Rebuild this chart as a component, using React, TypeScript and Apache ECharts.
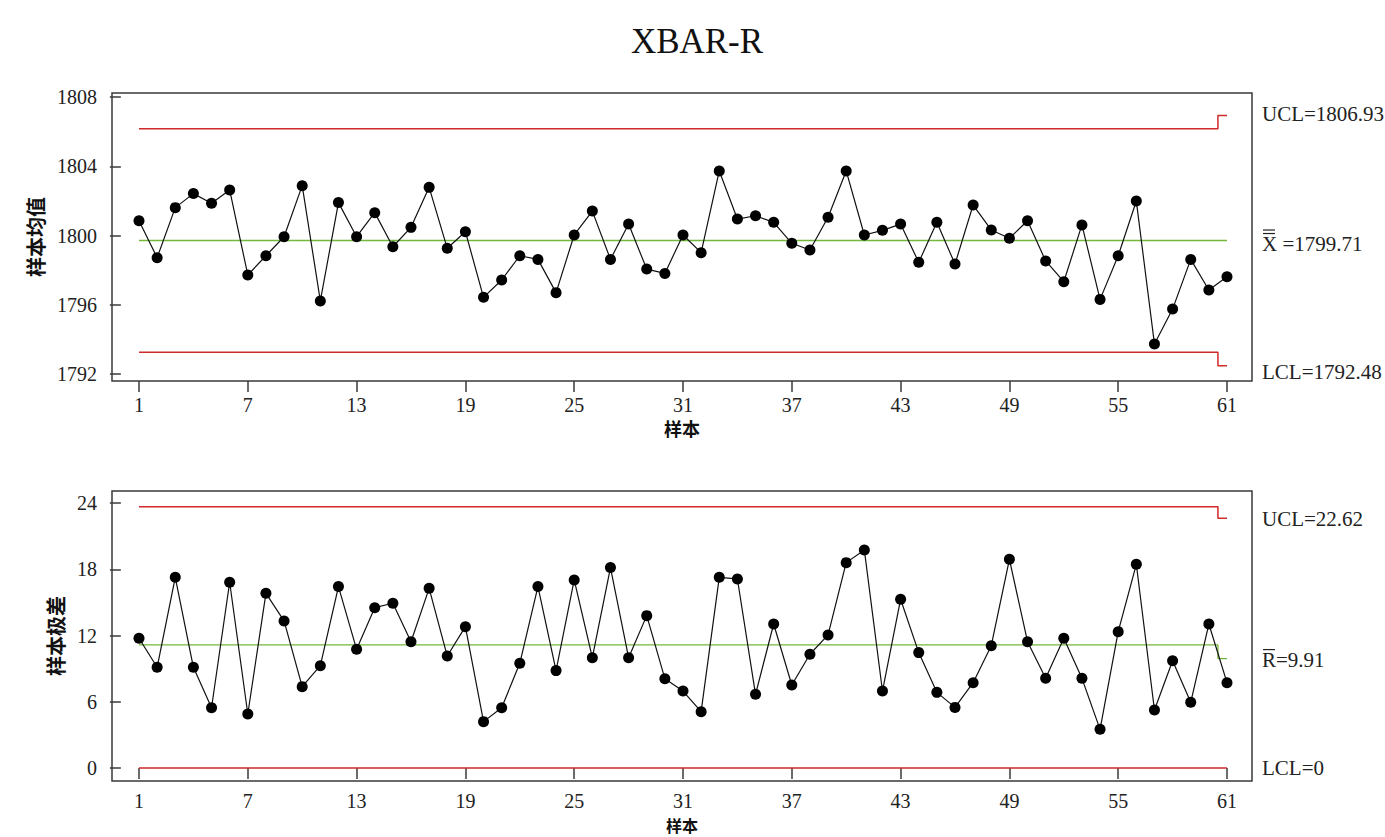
import React, { useEffect, useRef } from "react";
import * as echarts from "echarts";

// ---------- data ----------
const sampleNumbers = [
  1, 2, 3, 4, 5, 6, 7, 8, 9, 10, 11, 12, 13, 14, 15, 16, 17, 18, 19, 20,
  21, 22, 23, 24, 25, 26, 27, 28, 29, 30, 31, 32, 33, 34, 35, 36, 37, 38, 39, 40,
  41, 42, 43, 44, 45, 46, 47, 48, 49, 50, 51, 52, 53, 54, 55, 56, 57, 58, 59, 60, 61,
];

const xbarValues = [
  1800.85, 1798.72, 1801.61, 1802.42, 1801.86, 1802.63, 1797.72, 1798.83, 1799.93, 1802.88,
  1796.22, 1801.9, 1799.93, 1801.32, 1799.35, 1800.47, 1802.78, 1799.26, 1800.22, 1796.43,
  1797.43, 1798.83, 1798.62, 1796.7, 1800.03, 1801.41, 1798.62, 1800.66, 1798.06, 1797.81,
  1800.03, 1799.01, 1803.73, 1800.95, 1801.14, 1800.76, 1799.55, 1799.16, 1801.05, 1803.73,
  1800.03, 1800.3, 1800.66, 1798.45, 1800.76, 1798.35, 1801.76, 1800.32, 1799.84, 1800.85,
  1798.53, 1797.33, 1800.61, 1796.31, 1798.83, 1801.99, 1793.73, 1795.75, 1798.62, 1796.85,
  1797.62,
];

const rangeValues = [
  11.75, 9.12, 17.27, 9.12, 5.46, 16.82, 4.89, 15.82, 13.32, 7.37,
  9.27, 16.43, 10.75, 14.52, 14.92, 11.44, 16.27, 10.14, 12.8, 4.2,
  5.46, 9.48, 16.43, 8.82, 17.03, 9.99, 18.15, 9.99, 13.8, 8.09,
  6.97, 5.1, 17.27, 17.12, 6.67, 13.04, 7.52, 10.3, 12.05, 18.6,
  19.75, 6.97, 15.28, 10.45, 6.85, 5.49, 7.73, 11.08, 18.9, 11.44,
  8.12, 11.75, 8.12, 3.5, 12.35, 18.45, 5.25, 9.72, 5.95, 13.04,
  7.73,
];

// control limits: segments of [number of samples, value]
const limitSegmentCounts = [60, 1];
const xbarUCL = [1806.17, 1806.93];
const xbarCL = [1799.71, 1799.71];
const xbarLCL = [1793.25, 1792.48];
const rangeUCL = [23.65, 22.62];
const rangeCL = [11.15, 9.91];
const rangeLCL = [0, 0];

const xTickValues = [1, 7, 13, 19, 25, 31, 37, 43, 49, 55, 61];
const xbarTickValues = [1792, 1796, 1800, 1804, 1808];
const rangeTickValues = [0, 6, 12, 18, 24];

const xbarLabels = ["UCL=1806.93", "X =1799.71", "LCL=1792.48"];
const rangeLabels = ["UCL=22.62", "R=9.91", "LCL=0"];

// ---------- helpers ----------
const SERIF = '"Liberation Serif", "DejaVu Serif", serif';
const CJK = '"Noto Sans CJK SC", sans-serif';
const RED = "#d02a2a";
const GREEN = "#72b83c";
const FRAME = "#3a3a3a";

function expand(values: number[]) {
  const out: number[] = [];
  values.forEach((v, i) => {
    for (let k = 0; k < limitSegmentCounts[i]; k++) out.push(v);
  });
  return out.map((v, i) => [sampleNumbers[i], v]);
}

function limitSeries(values: number[], idx: number, color: string, width: number) {
  return {
    type: "line",
    xAxisIndex: idx,
    yAxisIndex: idx,
    data: expand(values),
    step: "middle",
    symbol: "none",
    lineStyle: { color, width },
    z: 1,
    silent: true,
  };
}

function xAxis(gridIndex: number, nameGap: number, labelMargin: number, nameSize: number) {
  return {
    type: "value",
    gridIndex,
    min: -0.489,
    max: 62.379,
    axisLine: { show: false },
    splitLine: { show: false },
    axisTick: {
      show: true,
      inside: false,
      length: 11,
      customValues: xTickValues,
      lineStyle: { color: FRAME, width: 1.5 },
    },
    axisLabel: {
      show: true,
      customValues: xTickValues,
      margin: labelMargin,
      fontFamily: SERIF,
      fontSize: 20,
      color: "#222",
      formatter: (v: number) => String(v),
    },
    name: "样本",
    nameLocation: "middle",
    nameGap,
    nameTextStyle: { fontFamily: CJK, fontWeight: "bold", fontSize: nameSize, color: "#111" },
  };
}

function yAxis(gridIndex: number, min: number, max: number, ticks: number[], name: string, nameGap: number) {
  return {
    type: "value",
    gridIndex,
    min,
    max,
    axisLine: { show: false },
    splitLine: { show: false },
    axisTick: {
      show: true,
      inside: false,
      length: 11,
      customValues: ticks,
      lineStyle: { color: FRAME, width: 1.5 },
    },
    axisLabel: {
      show: true,
      customValues: ticks,
      margin: 15,
      fontFamily: SERIF,
      fontSize: 20,
      color: "#222",
      formatter: (v: number) => String(v),
    },
    name,
    nameLocation: "middle",
    nameGap,
    nameRotate: 90,
    nameTextStyle: { fontFamily: CJK, fontWeight: "bold", fontSize: 20, color: "#111" },
  };
}

const option = {
  animation: false,
  backgroundColor: "#ffffff",
  grid: [
    { left: 112, top: 93, width: 1140, height: 288, show: true, borderColor: FRAME, borderWidth: 1.5, backgroundColor: "transparent" },
    { left: 112, top: 491, width: 1140, height: 290, show: true, borderColor: FRAME, borderWidth: 1.5, backgroundColor: "transparent" },
  ],
  xAxis: [xAxis(0, 38, 14, 18), xAxis(1, 36, 10, 16)],
  yAxis: [
    yAxis(0, 1791.596, 1808.231, xbarTickValues, "样本均值", 67),
    yAxis(1, -1.177, 25.087, rangeTickValues, "样本极差", 47),
  ],
  series: [
    limitSeries(xbarUCL, 0, RED, 1.5),
    limitSeries(xbarLCL, 0, RED, 1.5),
    limitSeries(xbarCL, 0, GREEN, 1.3),
    {
      type: "line",
      xAxisIndex: 0,
      yAxisIndex: 0,
      data: xbarValues.map((v, i) => [sampleNumbers[i], v]),
      symbol: "circle",
      symbolSize: 11,
      itemStyle: { color: "#000" },
      lineStyle: { color: "#111", width: 1.2 },
      z: 3,
    },
    limitSeries(rangeUCL, 1, RED, 1.5),
    limitSeries(rangeLCL, 1, RED, 1.5),
    limitSeries(rangeCL, 1, GREEN, 1.3),
    {
      type: "line",
      xAxisIndex: 1,
      yAxisIndex: 1,
      data: rangeValues.map((v, i) => [sampleNumbers[i], v]),
      symbol: "circle",
      symbolSize: 11,
      itemStyle: { color: "#000" },
      lineStyle: { color: "#111", width: 1.2 },
      z: 3,
    },
  ],
};

export default function App() {
  const ref = useRef<HTMLDivElement>(null);
  useEffect(() => {
    const chart = echarts.init(ref.current!, null, { renderer: "svg" });
    chart.setOption(option as any);

    const last = sampleNumbers[sampleNumbers.length - 1];
    const labelX = chart.convertToPixel({ gridIndex: 0 }, [last, 0])[0] + 35;
    const elements: any[] = [
      {
        type: "text",
        x: 697,
        y: 41,
        style: {
          text: "XBAR-R",
          fontFamily: SERIF,
          fontSize: 35,
          fill: "#111",
          textAlign: "center",
          textVerticalAlign: "middle",
        },
      },
    ];
    const xbarLast = [xbarUCL[1], xbarCL[1], xbarLCL[1]];
    const xbarDy = [-2, 3, 6];
    const rangeLast = [rangeUCL[1], rangeCL[1], rangeLCL[1]];
    const rangeDy = [1, 1, 0];
    const addLabels = (grid: number, vals: number[], texts: string[], dys: number[], bars: number) => {
      vals.forEach((v, i) => {
        const y = chart.convertToPixel({ gridIndex: grid }, [last, v])[1] + dys[i];
        elements.push({
          type: "text",
          x: labelX,
          y,
          style: {
            text: texts[i],
            fontFamily: SERIF,
            fontSize: 21,
            fill: "#222",
            textAlign: "left",
            textVerticalAlign: "middle",
          },
        });
        if (i === 1) {
          for (let b = 0; b < bars; b++) {
            const by = y - 10 - b * 3.5;
            elements.push({
              type: "line",
              shape: { x1: labelX + 1, y1: by, x2: labelX + 13, y2: by },
              style: { stroke: "#222", lineWidth: 1.2 },
            });
          }
        }
      });
    };
    addLabels(0, xbarLast, xbarLabels, xbarDy, 2);
    addLabels(1, rangeLast, rangeLabels, rangeDy, 1);
    chart.setOption({ graphic: { elements } });

    return () => chart.dispose();
  }, []);
  return (
    <div
      ref={ref}
      style={{ position: "absolute", left: 0, top: 0, width: 1385, height: 837, background: "#fff" }}
    />
  );
}
